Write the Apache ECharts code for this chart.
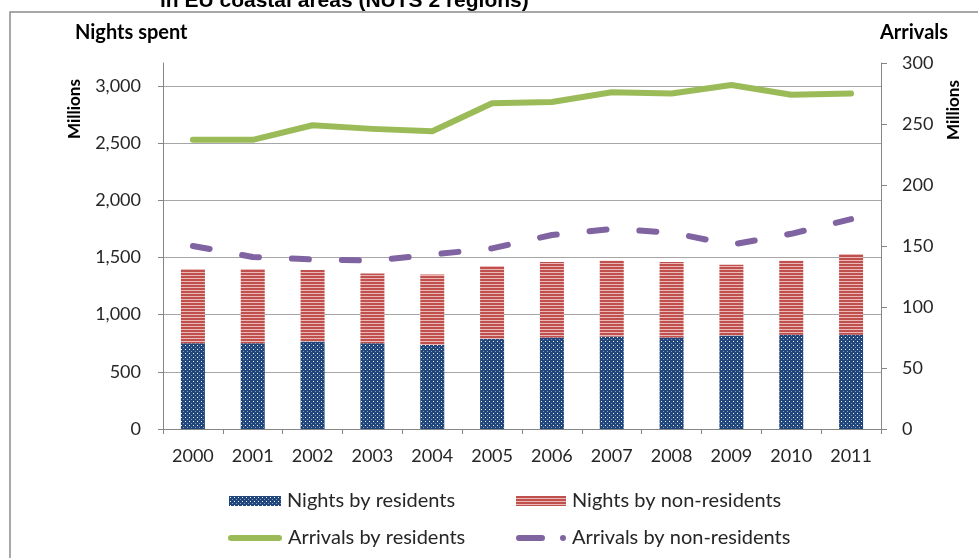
<!DOCTYPE html>
<html>
<head>
<meta charset="utf-8">
<script src="https://cdn.jsdelivr.net/npm/echarts@6/dist/echarts.min.js"></script>
<style>
  html, body { margin: 0; padding: 0; background: #fff; }
  #chart { width: 978px; height: 558px; }
</style>
</head>
<body>
<div id="chart"></div>
<script>
// data (millions)
const years = ["2000", "2001", "2002", "2003", "2004", "2005", "2006", "2007", "2008", "2009", "2010", "2011"];
const nightsResidents = [750, 750, 765, 750, 735, 788, 800, 808, 800, 817, 823, 823];
const nightsNonResidents = [650, 650, 625, 610, 615, 637, 660, 662, 660, 618, 647, 707];
const arrivalsResidents = [237, 237, 249, 246, 244, 267, 268, 276, 275, 282, 274, 275];
const arrivalsNonResidents = [150, 141, 139, 138, 143, 148, 159, 164, 161, 151, 160, 172];

const FONT = "Lato";

// dotted navy fill
const makeDots = () => {
  const c = document.createElement("canvas");
  c.width = 4; c.height = 4;
  const ctx = c.getContext("2d");
  ctx.fillStyle = "#21467c";
  ctx.fillRect(0, 0, 4, 4);
  ctx.fillStyle = "rgba(255,255,255,0.95)";
  ctx.fillRect(1, 1, 1, 1);
  ctx.fillStyle = "rgba(200,215,235,0.6)";
  ctx.fillRect(3, 3, 1, 1);
  return c;
};

// red with light horizontal stripes
const makeStripes = () => {
  const c = document.createElement("canvas");
  c.width = 4; c.height = 3;
  const ctx = c.getContext("2d");
  ctx.fillStyle = "#c0504d";
  ctx.fillRect(0, 0, 4, 3);
  ctx.fillStyle = "#eab9b7";
  ctx.fillRect(0, 2, 4, 1);
  return c;
};

const dotsFill = { image: makeDots(), repeat: "repeat" };
const stripeFill = { image: makeStripes(), repeat: "repeat" };

// legend icons for the two lines (thick line, and dash + dot like Excel)
const greenIcon = "path://M3,0 L51,0 A3,3 0 0 1 51,6 L3,6 A3,3 0 0 1 3,0 Z";
const purpleIcon = "path://M3,0 L26,0 A3,3 0 0 1 26,6 L3,6 A3,3 0 0 1 3,0 Z M47,0 A3,3 0 1 1 47,6 A3,3 0 1 1 47,0 Z";

const chart = echarts.init(document.getElementById("chart"));

const legendBase = {
  orient: "horizontal",
  itemGap: 0,
  padding: 0,
  textStyle: { fontFamily: FONT, fontSize: 20, color: "#262626", padding: [0, 0, 0, 1] },
  selectedMode: false,
};

const option = {
  animation: false,
  textStyle: { fontFamily: FONT },
  graphic: [
    {
      type: "rect",
      shape: { x: 10, y: 12, width: 1100, height: 700 },
      style: { fill: "none", stroke: "#8c8c8c", lineWidth: 1.5 },
      silent: true,
    },
    {
      type: "text",
      left: 160,
      top: -9,
      style: {
        text: "in EU coastal areas (NUTS 2 regions)",
        font: "bold 21px 'Liberation Sans', Arial, sans-serif",
        fill: "#000",
      },
    },
    {
      type: "text",
      left: 75,
      top: 23,
      style: { text: "Nights spent", font: "bold 20px Lato", fill: "#000" },
    },
    {
      type: "text",
      left: 880,
      top: 23,
      style: { text: "Arrivals", font: "bold 20px Lato", fill: "#000" },
    },
    {
      type: "text",
      x: 66,
      y: 139,
      rotation: Math.PI / 2,
      style: { text: "Millions", font: "bold 17px Lato", fill: "#000" },
    },
    {
      type: "text",
      x: 945,
      y: 140,
      rotation: Math.PI / 2,
      style: { text: "Millions", font: "bold 17px Lato", fill: "#000" },
    },
  ],
  legend: [
    Object.assign({}, legendBase, {
      left: 229, top: 491, itemWidth: 52, itemHeight: 10, icon: "rect",
      data: ["Nights by residents"],
    }),
    Object.assign({}, legendBase, {
      left: 516, top: 491, itemWidth: 50, itemHeight: 10, icon: "rect",
      data: ["Nights by non-residents"],
    }),
    Object.assign({}, legendBase, {
      left: 228, top: 528, itemWidth: 54, itemHeight: 6, icon: greenIcon,
      data: ["Arrivals by residents"],
    }),
    Object.assign({}, legendBase, {
      left: 516, top: 528, itemWidth: 50, itemHeight: 6, icon: purpleIcon,
      data: ["Arrivals by non-residents"],
    }),
  ],
  grid: {
    left: 163,
    right: 97,
    top: 63,
    bottom: 129,
  },
  xAxis: {
    type: "category",
    data: years,
    axisLine: { lineStyle: { color: "#868686", width: 1 } },
    axisTick: { show: true, length: 5, lineStyle: { color: "#868686" } },
    axisLabel: { fontFamily: FONT, fontSize: 18, color: "#262626", margin: 18 },
  },
  yAxis: [
    {
      type: "value",
      min: 0,
      max: 3200,
      interval: 500,
      axisLine: { show: true, lineStyle: { color: "#868686" } },
      axisTick: { show: true, length: 5, lineStyle: { color: "#868686" } },
      axisLabel: {
        fontFamily: FONT, fontSize: 18, color: "#262626", margin: 22,
        showMaxLabel: false,
        formatter: (v) => (v > 3000 ? "" : v.toLocaleString("en-US")),
      },
      splitLine: { show: true, showMaxLine: false, lineStyle: { color: "#a6a6a6", width: 1 } },
    },
    {
      type: "value",
      min: 0,
      max: 300,
      interval: 50,
      position: "right",
      axisLine: { show: true, lineStyle: { color: "#868686" } },
      axisTick: { show: true, length: 6, lineStyle: { color: "#868686" } },
      axisLabel: { fontFamily: FONT, fontSize: 18, color: "#262626", margin: 21 },
      splitLine: { show: false },
    },
  ],
  series: [
    {
      name: "Nights by residents",
      type: "bar",
      stack: "nights",
      barWidth: 24,
      itemStyle: { color: dotsFill },
      data: nightsResidents,
    },
    {
      name: "Nights by non-residents",
      type: "bar",
      stack: "nights",
      barWidth: 24,
      itemStyle: { color: stripeFill },
      data: nightsNonResidents,
    },
    {
      name: "Arrivals by residents",
      type: "line",
      yAxisIndex: 1,
      symbol: "none",
      showSymbol: false,
      itemStyle: { color: "#9bbb59" },
      lineStyle: { color: "#9bbb59", width: 6, cap: "round", join: "round" },
      data: arrivalsResidents,
    },
    {
      name: "Arrivals by non-residents",
      type: "line",
      yAxisIndex: 1,
      symbol: "none",
      showSymbol: false,
      itemStyle: { color: "#8064a2" },
      lineStyle: { color: "#8064a2", width: 6, type: [17, 33], cap: "round", join: "round" },
      data: arrivalsNonResidents,
    },
  ],
};

chart.setOption(option);
</script>
</body>
</html>
